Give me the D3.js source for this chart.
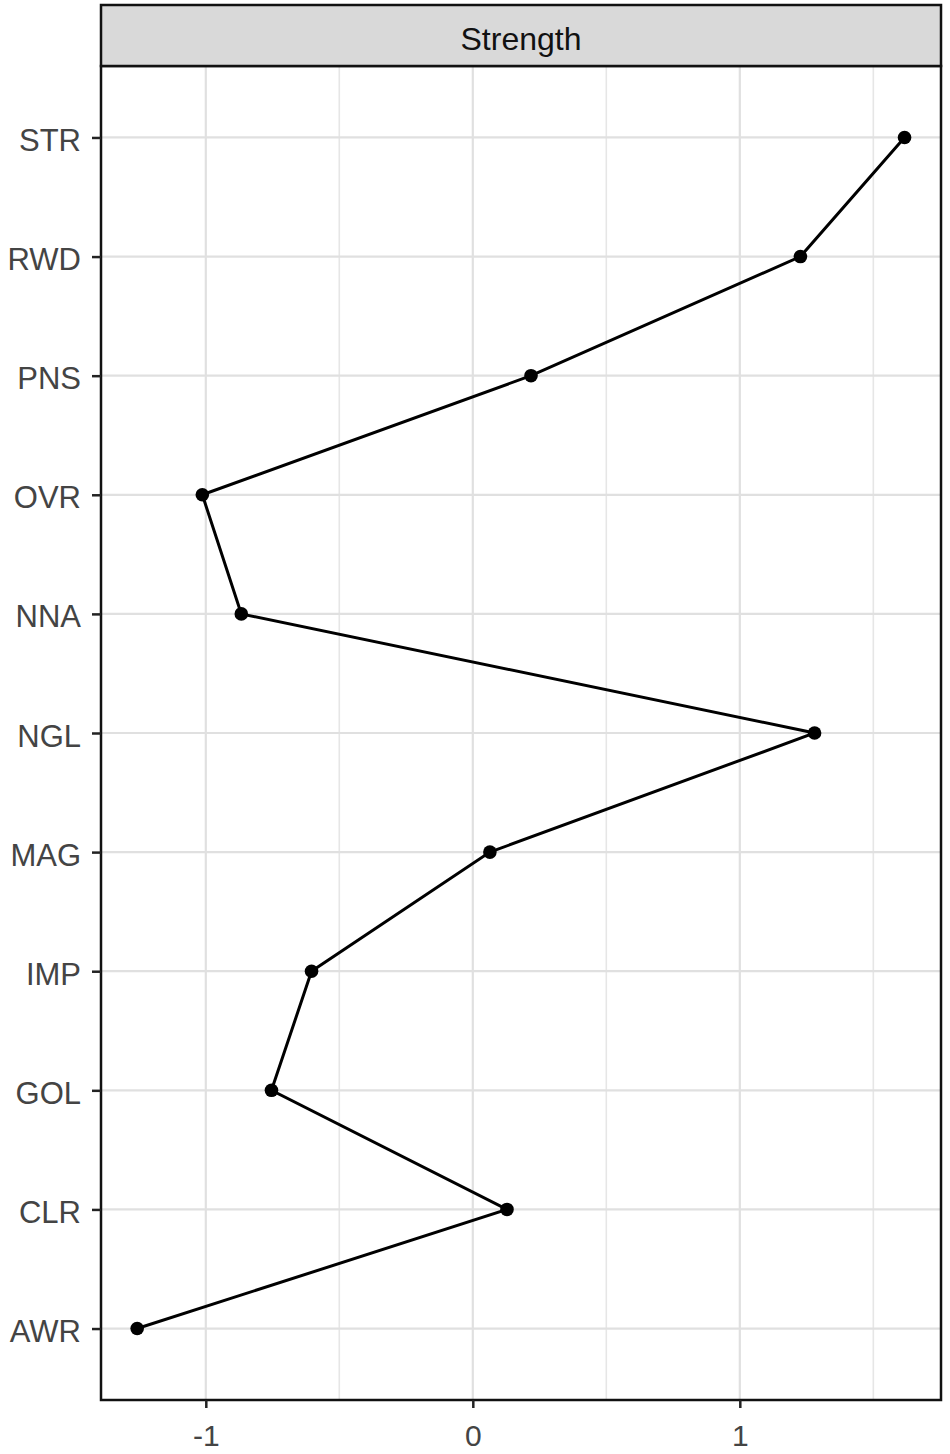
<!DOCTYPE html>
<html><head><meta charset="utf-8">
<script src="https://cdn.jsdelivr.net/npm/d3@7"></script>
<style>body{margin:0;background:#fff;}svg{display:block;}</style>
</head><body>
<script>
const categories = ["STR","RWD","PNS","OVR","NNA","NGL","MAG","IMP","GOL","CLR","AWR"];
const values = [1.617, 1.227, 0.218, -1.013, -0.867, 1.280, 0.064, -0.604, -0.754, 0.128, -1.257];
const xTicks = [-1, 0, 1];
const xMinor = [-0.5, 0.5, 1.5];
const panelTitle = "Strength";

(function () {
const W = 950, H = 1454;
const pL = 101, pR = 941, pT = 66, pB = 1400, sT = 5;
const font = "Liberation Sans, Arial, sans-serif";
const svg = d3.select("body").append("svg").attr("width", W).attr("height", H);

const x = d3.scaleLinear().domain([-1.3925, 1.7535]).range([pL, pR]);
const y = d3.scalePoint().domain(categories).range([pT, pB]).padding(0.6);

const g = svg.append("g");
g.selectAll(".minx").data(xMinor).join("line")
  .attr("x1", d => x(d)).attr("x2", d => x(d)).attr("y1", pT).attr("y2", pB)
  .attr("stroke", "#e6e6e6").attr("stroke-width", 1.6);
g.selectAll(".majx").data(xTicks).join("line")
  .attr("x1", d => x(d)).attr("x2", d => x(d)).attr("y1", pT).attr("y2", pB)
  .attr("stroke", "#e0e0e0").attr("stroke-width", 2.2);
g.selectAll(".majy").data(categories).join("line")
  .attr("x1", pL).attr("x2", pR).attr("y1", d => y(d)).attr("y2", d => y(d))
  .attr("stroke", "#e0e0e0").attr("stroke-width", 2.2);

const pts = categories.map((c, i) => ({c, v: values[i]}));
svg.append("path").datum(pts)
  .attr("fill", "none").attr("stroke", "#000").attr("stroke-width", 3)
  .attr("d", d3.line().x(d => x(d.v)).y(d => y(d.c)));
svg.selectAll(".pt").data(pts).join("circle")
  .attr("cx", d => x(d.v)).attr("cy", d => y(d.c)).attr("r", 6.8).attr("fill", "#000");

svg.append("rect").attr("x", pL).attr("y", pT).attr("width", pR - pL).attr("height", pB - pT)
  .attr("fill", "none").attr("stroke", "#111").attr("stroke-width", 2.5);

svg.append("rect").attr("x", pL).attr("y", sT).attr("width", pR - pL).attr("height", pT - sT)
  .attr("fill", "#d9d9d9").attr("stroke", "#111").attr("stroke-width", 2.5);
svg.append("text").attr("x", (pL + pR) / 2).attr("y", 50)
  .attr("text-anchor", "middle").attr("font-family", font)
  .attr("font-size", 32).attr("fill", "#111").text(panelTitle);

const xAxis = d3.axisBottom(x).tickValues(xTicks).tickSize(8).tickPadding(17).tickFormat(d => String(d));
const ax = svg.append("g").attr("transform", `translate(0,${pB})`).call(xAxis);
ax.select(".domain").remove();
ax.selectAll("line").attr("stroke", "#222").attr("stroke-width", 2.5);
ax.selectAll("text").attr("font-family", font).attr("font-size", 30).attr("fill", "#444");

const yAxis = d3.axisLeft(y).tickSize(9).tickPadding(11);
const ay = svg.append("g").attr("transform", `translate(${pL},0)`).call(yAxis);
ay.select(".domain").remove();
ay.selectAll("line").attr("stroke", "#222").attr("stroke-width", 2.5);
ay.selectAll("text").attr("font-family", font).attr("font-size", 31).attr("fill", "#444").attr("dy", "0.42em");
})();
</script>
</body></html>
